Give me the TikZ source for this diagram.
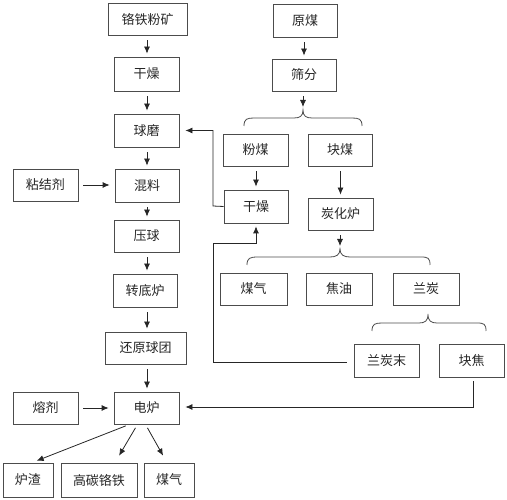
\documentclass[tikz,border=0pt]{standalone}
\usepackage{fontspec}
\setmainfont{Noto Sans CJK SC}
\usetikzlibrary{arrows.meta}
\begin{document}
\begin{tikzpicture}[x=1pt,y=-1pt,
  box/.style={draw=black!70,line width=0.8pt,inner sep=0pt,font=\fontsize{13}{15}\selectfont,text=black!85},
  flow/.style={draw=black!85,line width=0.8pt,-{Latex[length=7pt,width=6pt]}},
  vflow/.style={flow,shorten <=5pt,shorten >=3pt},
  hflow/.style={flow,shorten <=5pt,shorten >=5pt},
  brc/.style={draw=black!70,line width=0.8pt}]
\useasboundingbox (0,0) rectangle (507,500);
% left column
\node[box,minimum width=79pt,minimum height=32pt] (A) at (147.5,19) {铬铁粉矿};
\node[box,minimum width=65pt,minimum height=34pt] (B) at (146.5,74) {干燥};
\node[box,minimum width=65pt,minimum height=33pt] (C) at (146.5,130.5) {球磨};
\node[box,minimum width=64pt,minimum height=33pt] (D) at (147,185.5) {混料};
\node[box,minimum width=65pt,minimum height=32pt] (E) at (146.5,236) {压球};
\node[box,minimum width=64pt,minimum height=33pt] (F) at (145,290.5) {转底炉};
\node[box,minimum width=81pt,minimum height=32pt] (G) at (145.5,348) {还原球团};
\node[box,minimum width=65pt,minimum height=32pt] (H) at (146.5,408) {电炉};
\node[box,minimum width=65pt,minimum height=32pt] (I) at (45.5,185) {粘结剂};
\node[box,minimum width=65pt,minimum height=32pt] (J) at (45.5,408) {熔剂};
\node[box,minimum width=50pt,minimum height=34pt] (K) at (28,480) {炉渣};
\node[box,minimum width=76pt,minimum height=34pt] (L) at (99,480) {高碳铬铁};
\node[box,minimum width=50pt,minimum height=34pt] (M) at (169,480) {煤气};
% right part
\node[box,minimum width=64pt,minimum height=33pt] (N) at (305,20.5) {原煤};
\node[box,minimum width=64pt,minimum height=32pt] (O) at (304,75) {筛分};
\node[box,minimum width=65pt,minimum height=32pt] (P) at (255.5,150) {粉煤};
\node[box,minimum width=64pt,minimum height=32pt] (Q) at (340,150) {块煤};
\node[box,minimum width=64pt,minimum height=33pt] (R) at (256,206.5) {干燥};
\node[box,minimum width=65pt,minimum height=32pt] (S) at (340.5,214) {炭化炉};
\node[box,minimum width=67pt,minimum height=32pt] (T) at (253.5,289) {煤气};
\node[box,minimum width=66pt,minimum height=32pt] (U) at (339,289) {焦油};
\node[box,minimum width=66pt,minimum height=32pt] (V) at (426,289) {兰炭};
\node[box,minimum width=65pt,minimum height=33pt] (W) at (386.5,360.5) {兰炭末};
\node[box,minimum width=65pt,minimum height=33pt] (X) at (471.5,360.5) {块焦};
% brace tips
\coordinate (b1) at (303,110);
\coordinate (b2) at (340,249);
\coordinate (b3) at (428,314);
% braces
\draw[brc] (244,126) .. controls (244,119) and (247,118) .. (254,118) -- (294,118) .. controls (300,118) and (303,116) .. (b1) .. controls (303,116) and (306,118) .. (312,118) -- (352,118) .. controls (359,118) and (362,119) .. (362,126);
\draw[brc] (247,265) .. controls (247,258) and (250,257) .. (258,257) -- (330,257) .. controls (336,257) and (340,255) .. (b2) .. controls (340,255) and (344,257) .. (350,257) -- (421,257) .. controls (428,257) and (430,258) .. (430,265);
\draw[brc] (372,331) .. controls (372,324) and (375,323) .. (382,323) -- (419,323) .. controls (425,323) and (428,321) .. (b3) .. controls (428,321) and (431,323) .. (437,323) -- (477,323) .. controls (484,323) and (486,324) .. (486,331);
% main column arrows (vertical)
\coordinate (cx) at (147,0);
\draw[vflow] (cx |- A.south) -- (cx |- B.north);
\draw[vflow] (cx |- B.south) -- (cx |- C.north);
\draw[vflow] (cx |- C.south) -- (cx |- D.north);
\draw[vflow] (cx |- D.south) -- (cx |- E.north);
\draw[vflow] (cx |- E.south) -- (cx |- F.north);
\draw[vflow] (cx |- F.south) -- (cx |- G.north);
\draw[vflow] (cx |- G.south) -- (cx |- H.north);
\draw[hflow] (I) -- (I -| D.west);
\draw[hflow] (J) -- (J -| H.west);
\draw[flow,shorten <=4pt,shorten >=5pt] ([xshift=-17pt]H.south) -- ([xshift=4pt]K.north);
\draw[flow,shorten <=4pt,shorten >=8pt] ([xshift=-9pt]H.south) -- ([xshift=16pt]L.north);
\draw[flow,shorten <=4pt,shorten >=8pt] ([xshift=-1pt]H.south) -- ([xshift=-2pt]M.north);
% right arrows
\draw[vflow] (N.south -| O) -- (O.north);
\draw[vflow] (O.south -| b1) -- (b1);
\draw[vflow] (P.south -| R) -- (R.north);
\draw[vflow] (Q.south -| S) -- (S.north);
\draw[vflow] (S.south -| b2) -- (b2);
% feedback lines
\coordinate (f1) at (213,206);
\draw[flow,shorten >=6pt] (R.west) -- (f1) |- (C.east);
\coordinate (f2) at (213,362);
\coordinate (f3) at (213,243);
\draw[flow,shorten <=7pt,shorten >=3pt] (W.west |- f2) -- (f2) -- (f3) -| (R.south);
\coordinate (f4) at (473,407);
\draw[flow,shorten <=4pt,shorten >=6pt] ([xshift=1.5pt]X.south) |- (H.east |- f4);
\end{tikzpicture}
\end{document}
